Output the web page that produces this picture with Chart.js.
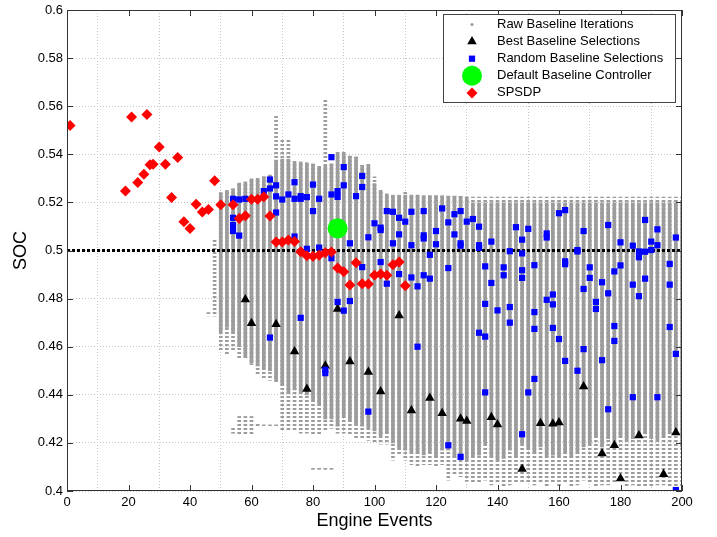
<!DOCTYPE html>
<html>
<head>
<meta charset="utf-8">
<script src="https://cdn.jsdelivr.net/npm/chart.js@4/dist/chart.umd.min.js"></script>
<style>
  html, body { margin: 0; padding: 0; background: #fff; }
</style>
</head>
<body>
<canvas id="socChart" width="717" height="537"></canvas>
<script>
// Raw baseline iterations: one column of iterations per engine event
const rawX = [46,48,50,52,54,56,58,60,62,64,66,68,70,72,74,76,78,80,82,84,86,88,90,92,94,96,98,100,102,104,
  106,108,110,112,114,116,118,120,122,124,126,128,130,132,134,136,138,140,142,144,146,148,150,152,154,156,158,160,
  162,164,166,168,170,172,174,176,178,180,182,184,186,188,190,192,194,196,198,200];
// dense part of each column
const rawHi = [null,null,0.524,0.525,0.5256,0.528,0.5285,0.5298,0.530,0.5306,
  0.5314,0.5376,0.538,0.538,0.537,0.5368,0.5365,0.536,0.535,0.535,
  0.536,0.540,0.540,0.5393,0.5388,0.5354,0.5354,0.5278,0.525,0.5235,
  0.523,0.523,0.523,0.523,0.523,0.5228,0.5228,0.5228,0.5228,0.5226,
  0.5226,0.5225,0.5222,0.5198,0.5198,0.5198,0.5198,0.5198,0.5198,0.5198,
  0.5198,0.5198,0.5198,0.5198,0.5198,0.5198,0.5198,0.5198,0.5198,0.5198,
  0.5198,0.5198,0.5198,0.5198,0.5198,0.5198,0.5198,0.5198,0.5198,0.5198,
  0.5198,0.5198,0.5198,0.5198,0.5198,0.5198,0.5198,0.5198];
const rawLo = [null,null,0.466,0.468,0.466,0.460,0.456,0.453,0.452,0.451,
  0.450,0.446,0.444,0.4405,0.442,0.441,0.440,0.4376,0.436,0.430,
  0.430,0.427,0.431,0.429,0.428,0.427,0.426,0.425,0.423,0.424,
  0.420,0.418,0.417,0.416,0.4155,0.415,0.416,0.414,0.417,0.417,
  0.414,0.413,0.413,0.4142,0.4149,0.4197,0.4142,0.4128,0.4135,0.417,
  0.4142,0.4197,0.4176,0.4156,0.4183,0.4142,0.4149,0.4142,0.4156,0.4142,
  0.4156,0.4183,0.4197,0.4224,0.4183,0.4218,0.4211,0.4224,0.4211,0.4218,
  0.4238,0.4238,0.4218,0.4211,0.4224,0.4238,0.4238,0.4183];
// scattered iterations around each column
const rawTailHi = [0.4742,0.5045,0.524,0.525,0.5256,0.528,0.5285,0.5298,0.530,0.5306,
  0.5314,0.5566,0.5462,0.5458,0.537,0.5368,0.5365,0.536,0.535,0.563,
  0.536,0.541,0.541,0.5393,0.5388,0.5354,0.5362,0.5306,0.525,0.5235,
  0.523,0.523,0.5248,0.523,0.523,0.5228,0.5228,0.5228,0.5228,0.5226,
  0.5226,0.5225,0.5222,0.5222,0.5222,0.5222,0.5222,0.5222,0.5222,0.5222,
  0.5222,0.5222,0.5222,0.5222,0.5222,0.5222,0.5222,0.5222,0.5222,0.5222,
  0.5222,0.5222,0.5222,0.5222,0.5222,0.5222,0.5222,0.5222,0.5222,0.5222,
  0.5222,0.5222,0.5222,0.5222,0.5222,0.5222,0.5222,0.5222];
const rawTailLo = [0.4728,0.4727,0.458,0.457,0.458,0.455,0.455,0.4525,0.448,0.447,
  0.446,0.445,0.425,0.425,0.425,0.424,0.424,0.423,0.423,0.425,
  0.426,0.424,0.424,0.423,0.422,0.422,0.421,0.420,0.4195,0.4195,
  0.4128,0.415,0.4128,0.411,0.410,0.411,0.411,0.410,0.411,0.4045,
  0.407,0.406,0.404,0.4038,0.4032,0.4045,0.4025,0.4032,0.4018,0.4025,
  0.4038,0.4038,0.4032,0.4025,0.4032,0.4018,0.4038,0.4018,0.4038,0.4018,
  0.4025,0.4045,0.4032,0.4018,0.4025,0.4025,0.4032,0.4045,0.4018,0.4025,
  0.4018,0.4018,0.4018,0.4025,0.4025,0.4018,0.4018,0.4018];
// isolated clumps of raw iterations
const clumpX = [54,56,58,60,62,64,66,68,80,82,84,86];
const clumpLo = [0.424,0.423,0.423,0.423,0.427,0.4265,0.4265,0.4265,0.409,0.409,0.409,0.409];
const clumpHi = [0.4265,0.431,0.431,0.431,0.4278,0.4275,0.4275,0.4275,0.4098,0.4098,0.4098,0.4098];

const bestSel = [[58,0.4796],[60,0.4697],[68,0.4693],[74,0.458],[78,0.4424],[84,0.4521],[88,0.4757],[92,0.4538],
  [98,0.4495],[102,0.4414],[108,0.473],[112,0.4335],[118,0.4387],[122,0.4323],[128,0.43],[130,0.4291],
  [138,0.4307],[140,0.4276],[148,0.4091],[154,0.4282],[158,0.428],[160,0.4285],[168,0.4435],[174,0.4156],
  [178,0.419],[180,0.4052],[186,0.4231],[194,0.407],[198,0.4243]];

const randomSel = [[54,0.5215],[54,0.5136],[54,0.5106],[54,0.5081],[56,0.5212],[56,0.5062],[58,0.5215],
  [64,0.5247],[66,0.5295],[66,0.5258],[66,0.4638],[68,0.5271],[68,0.5225],[68,0.5158],[70,0.5212],
  [72,0.5233],[74,0.5284],[74,0.5215],[74,0.5058],[76,0.5226],[76,0.5215],[76,0.472],[78,0.5222],
  [78,0.5007],[80,0.5274],[80,0.5164],[82,0.5215],[82,0.5012],[84,0.4504],[84,0.449],[86,0.5388],
  [86,0.5233],[86,0.4968],[88,0.5247],[88,0.5223],[88,0.4786],[90,0.5347],[90,0.5271],[90,0.475],
  [92,0.503],[92,0.479],[94,0.5226],[96,0.531],[96,0.5264],[96,0.4931],[98,0.5055],[98,0.433],
  [100,0.5113],[102,0.5095],[102,0.5085],[102,0.4952],[104,0.5164],[104,0.4862],[106,0.5161],[106,0.503],
  [108,0.5136],[108,0.5067],[108,0.4902],[110,0.512],[112,0.5161],[112,0.5022],[112,0.4888],[114,0.4851],
  [114,0.46],[116,0.5164],[116,0.5063],[116,0.505],[116,0.4897],[118,0.4982],[118,0.4883],[120,0.5081],
  [120,0.5026],[122,0.5175],[124,0.5117],[124,0.4927],[124,0.419],[126,0.5151],[126,0.5067],[128,0.5164],
  [128,0.503],[128,0.502],[128,0.4142],[130,0.512],[132,0.5131],[134,0.5099],[134,0.5022],[134,0.5011],
  [134,0.4658],[136,0.4934],[136,0.4778],[136,0.4642],[136,0.441],[138,0.5037],[138,0.4865],[140,0.4751],
  [142,0.493],[142,0.4897],[144,0.4997],[144,0.4765],[144,0.47],[146,0.5097],[148,0.5045],[148,0.4988],
  [148,0.4918],[148,0.4886],[148,0.4236],[150,0.509],[150,0.441],[152,0.4939],[152,0.4744],[152,0.4674],
  [152,0.4466],[156,0.5071],[156,0.5054],[156,0.4795],[158,0.4817],[158,0.4776],[158,0.4678],[160,0.5155],
  [160,0.4632],[162,0.5168],[162,0.4955],[162,0.4943],[162,0.4541],[166,0.5002],[166,0.4996],[166,0.45],
  [168,0.5081],[168,0.484],[168,0.459],[170,0.493],[170,0.4886],[172,0.4786],[172,0.4757],[174,0.4868],
  [174,0.4544],[176,0.5106],[176,0.4822],[176,0.434],[178,0.4913],[178,0.4686],[178,0.4624],[180,0.5034],
  [180,0.4938],[184,0.502],[184,0.4858],[184,0.439],[186,0.4996],[186,0.4972],[186,0.481],[188,0.5127],
  [188,0.4995],[188,0.4883],[190,0.5037],[190,0.5002],[192,0.5088],[192,0.5022],[192,0.439],[196,0.4944],
  [196,0.4858],[196,0.4682],[198,0.5054],[198,0.457],[198,0.4004]];

const defaultCtrl = [[88,0.5092]];

const spsdp = [[1,0.552],[19,0.5247],[21,0.5555],[23,0.5283],[25,0.5317],[26,0.5566],[27,0.5357],[28,0.5359],
  [30,0.543],[32,0.5359],[34,0.522],[36,0.5387],[38,0.512],[40,0.5091],[42,0.5192],[44,0.516],[46,0.517],
  [48,0.529],[50,0.519],[54,0.519],[56,0.5133],[58,0.5145],[60,0.5213],[62,0.5213],[64,0.5223],[66,0.5143],
  [68,0.5035],[70,0.5035],[72,0.5044],[74,0.5037],[76,0.4995],[78,0.4978],[80,0.4976],[82,0.498],[84,0.4991],
  [86,0.4994],[88,0.4927],[90,0.4912],[92,0.4857],[94,0.4949],[96,0.4862],[98,0.4861],[100,0.4897],
  [102,0.4902],[104,0.4897],[106,0.4941],[108,0.4952],[110,0.4853]];

// target SOC reference line
const refX = [0, 200];
const refY = [0.5, 0.5];

const xTicks = [0,20,40,60,80,100,120,140,160,180,200];
const yTicks = [0.4,0.42,0.44,0.46,0.48,0.5,0.52,0.54,0.56,0.58,0.6];

const FONT = "'Liberation Sans', Arial, Helvetica, sans-serif";
const GRAY = '#9c9c9c';

// dotted fill for the sparse iterations
const dotCanvas = document.createElement('canvas');
dotCanvas.width = 1;
dotCanvas.height = 4;
const dctx = dotCanvas.getContext('2d');
dctx.fillStyle = GRAY;
dctx.fillRect(0, 0, 1, 2);
const dotPattern = dctx.createPattern(dotCanvas, 'repeat');

const pts = arr => arr.map(p => ({ x: p[0], y: p[1] }));

const denseData = [];
rawX.forEach((x, i) => { if (rawHi[i] !== null) denseData.push({ x, y: [rawLo[i], rawHi[i]] }); });
const tailData = rawX.map((x, i) => ({ x, y: [rawTailLo[i], rawTailHi[i]] }));
const clumpData = clumpX.map((x, i) => ({ x, y: [clumpLo[i], clumpHi[i]] }));

const legendItems = [
  { text: 'Raw Baseline Iterations', pointStyle: 'circle', radius: 1.6, color: GRAY },
  { text: 'Best Baseline Selections', pointStyle: 'triangle', radius: 5.5, color: '#000000' },
  { text: 'Random Baseline Selections', pointStyle: 'rect', radius: 4.4, color: '#0000ff' },
  { text: 'Default Baseline Controller', pointStyle: 'circle', radius: 10, color: '#00ff00' },
  { text: 'SPSDP', pointStyle: 'rectRot', radius: 5.5, color: '#ff0000' }
];

const framePlugin = {
  id: 'frame',
  afterDraw(chart) {
    const { ctx, chartArea: a, scales } = chart;
    ctx.save();
    // axes box with inward ticks
    ctx.strokeStyle = '#333';
    ctx.lineWidth = 1;
    ctx.strokeRect(a.left + 0.5, a.top + 0.5, a.right - a.left - 1, a.bottom - a.top - 1);
    ctx.beginPath();
    scales.x.ticks.forEach(t => {
      const px = Math.round(scales.x.getPixelForValue(t.value)) + 0.5;
      ctx.moveTo(px, a.bottom); ctx.lineTo(px, a.bottom - 6);
      ctx.moveTo(px, a.top); ctx.lineTo(px, a.top + 6);
    });
    scales.y.ticks.forEach(t => {
      const py = Math.round(scales.y.getPixelForValue(t.value)) + 0.5;
      ctx.moveTo(a.left, py); ctx.lineTo(a.left + 6, py);
      ctx.moveTo(a.right, py); ctx.lineTo(a.right - 6, py);
    });
    ctx.stroke();

    // legend box in the upper right
    const bx = 443.5, by = 14.5, bw = 232, bh = 88;
    ctx.fillStyle = '#fff';
    ctx.fillRect(bx, by, bw, bh);
    ctx.strokeStyle = '#444';
    ctx.strokeRect(bx, by, bw, bh);
    ctx.font = '13px ' + FONT;
    ctx.textBaseline = 'middle';
    ctx.textAlign = 'left';
    legendItems.forEach((it, i) => {
      const cy = by + 10 + i * 17.1;
      ctx.fillStyle = it.color;
      Chart.helpers.drawPoint(ctx, { pointStyle: it.pointStyle, radius: it.radius, rotation: 0, borderWidth: 0 }, 472, cy);
      ctx.fillStyle = '#000';
      ctx.fillText(it.text, 497, cy);
    });
    ctx.restore();
  }
};

new Chart(document.getElementById('socChart'), {
  type: 'scatter',
  data: {
    datasets: [
      { label: 'SPSDP', data: pts(spsdp), pointStyle: 'rectRot', pointRadius: 5.5,
        pointBackgroundColor: '#ff0000', pointBorderWidth: 0, order: 1 },
      { label: 'Default Baseline Controller', data: pts(defaultCtrl), pointStyle: 'circle', pointRadius: 10,
        pointBackgroundColor: '#00ff00', pointBorderWidth: 0, order: 2 },
      { label: 'Random Baseline Selections', data: pts(randomSel), pointStyle: 'rect', pointRadius: 4.4,
        pointBackgroundColor: '#0000ff', pointBorderWidth: 0, order: 3 },
      { label: 'Best Baseline Selections', data: pts(bestSel), pointStyle: 'triangle', pointRadius: 5.5,
        pointBackgroundColor: '#000000', pointBorderWidth: 0, order: 4 },
      { type: 'line', label: 'Target', data: refX.map((x, i) => ({ x, y: refY[i] })),
        borderColor: '#000', borderWidth: 2.8, borderDash: [3, 2], pointRadius: 0, showLine: true, order: 5 },
      { type: 'bar', label: 'Raw Baseline Iterations', data: denseData, backgroundColor: GRAY,
        barThickness: 3, grouped: false, borderWidth: 0, order: 6 },
      { type: 'bar', label: 'Raw sparse', data: tailData, backgroundColor: dotPattern,
        barThickness: 3, grouped: false, borderWidth: 0, order: 7 },
      { type: 'bar', label: 'Raw clumps', data: clumpData, backgroundColor: dotPattern,
        barThickness: 3, grouped: false, borderWidth: 0, order: 7 }
    ]
  },
  options: {
    responsive: false,
    animation: false,
    events: [],
    layout: { padding: { top: 0, right: 35, left: 0, bottom: 0 } },
    plugins: { legend: { display: false }, tooltip: { enabled: false } },
    scales: {
      x: {
        type: 'linear', min: 0, max: 200, offset: false,
        afterBuildTicks: s => { s.ticks = xTicks.map(v => ({ value: v })); },
        afterFit: s => { s.height = 46; s.paddingLeft = 0; s.paddingRight = 0; },
        ticks: { padding: 4, color: '#000', font: { family: FONT, size: 13 }, maxRotation: 0, autoSkip: false,
          callback: v => String(v) },
        grid: { color: '#c4c4c4', lineWidth: 1, drawTicks: false },
        border: { display: false, dash: [1, 2] },
        title: { display: true, text: 'Engine Events', color: '#000', font: { family: FONT, size: 18 },
          padding: { top: 0, bottom: 5 } }
      },
      y: {
        type: 'linear', min: 0.4, max: 0.6,
        afterBuildTicks: s => { s.ticks = yTicks.map(v => ({ value: v })); },
        afterFit: s => { s.width = 67; s.paddingTop = 7; s.paddingBottom = 0; },
        ticks: { padding: 4, color: '#000', font: { family: FONT, size: 13 }, autoSkip: false,
          callback: v => String(+v.toFixed(2)) },
        grid: { color: '#c4c4c4', lineWidth: 1, drawTicks: false },
        border: { display: false, dash: [1, 2] },
        title: { display: true, text: 'SOC', color: '#000', font: { family: FONT, size: 18 },
          padding: { top: 10, bottom: 0 } }
      }
    }
  },
  plugins: [framePlugin]
});
</script>
</body>
</html>
